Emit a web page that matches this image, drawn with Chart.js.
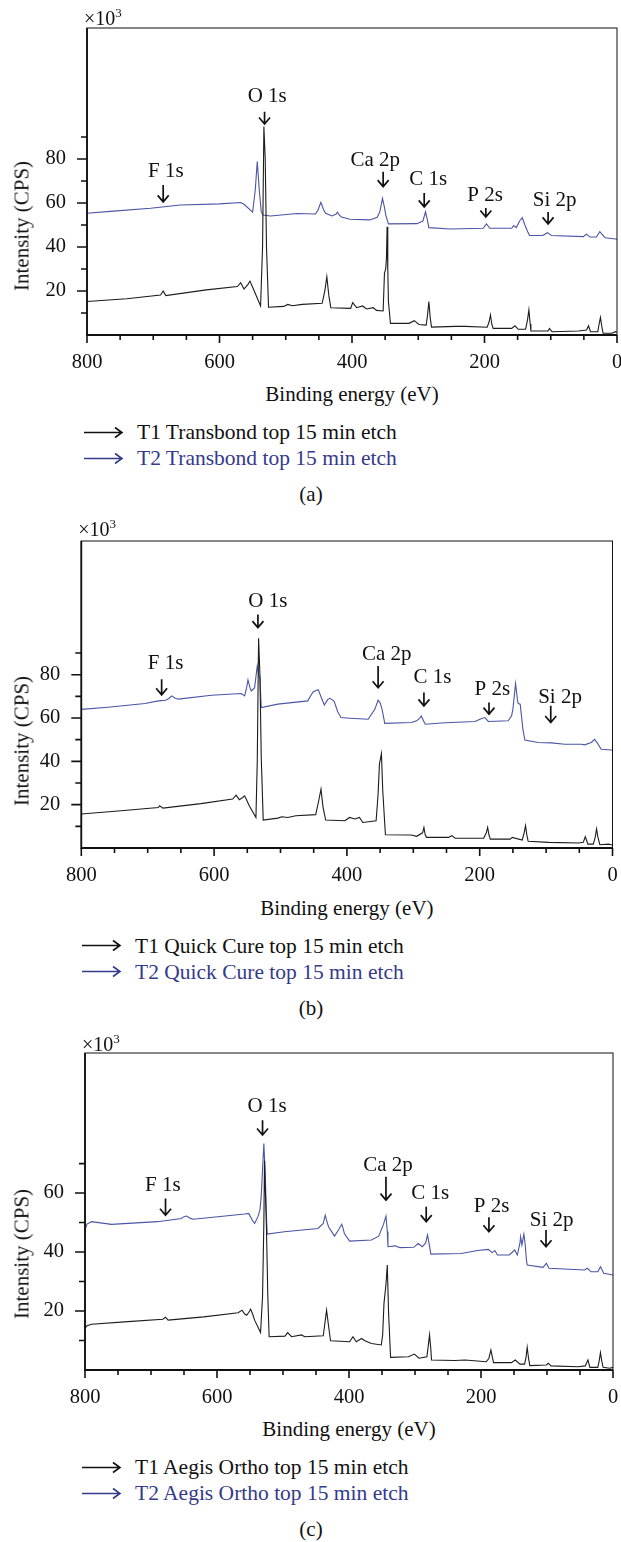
<!DOCTYPE html>
<html>
<head>
  <meta charset="utf-8">
  <title>XPS survey spectra</title>
  <script src="https://cdn.jsdelivr.net/npm/chart.js"></script>
  <style>
    body { margin: 0; background: #fff; }
    #page { position: relative; width: 621px; height: 1542px; font-family: 'Liberation Serif', serif; color: #111; overflow: hidden; }
    #page canvas { position: absolute; left: 0; }
    .txt { position: absolute; white-space: nowrap; font-size: 21px; line-height: 1; }
    .mid { transform: translate(-50%, -50%); }
    .ytitle { transform: translate(-50%, -50%) rotate(-90deg); }
    .left { transform: translateY(-50%); }
    .times { font-size: 20px; }
    .times sup { font-size: 13px; vertical-align: 8px; }
    .row { position: absolute; display: flex; align-items: center; transform: translateY(-50%); }
  </style>
</head>
<body>
<div id="page"></div>
<script>
  // values: [binding energy (eV), intensity (x10^3 CPS)]
  const xTicks = [800, 750, 700, 650, 600, 550, 500, 450, 400, 350, 300, 250, 200, 150, 100, 50, 0];
  const yTicksAB = [10, 20, 30, 40, 50, 60, 70, 80, 90];
  const yTicksC = [10, 20, 30, 40, 50, 60, 70];
  const peakNames = ['O 1s', 'F 1s', 'Ca 2p', 'C 1s', 'P 2s', 'Si 2p'];

  const transbondT1 = [[800,15.2],[740,16.5],[689,18.2],[685,20],[681,17.9],[620,20.5],[573,22],[568,23.8],[563,20.9],[557,23],[554,24.5],[549,21],[545,18.2],[538,13.2],[535,40],[533,94.7],[531,80],[529,39.4],[526,12.6],[503,13],[497,13.9],[490,13.3],[475,13.9],[445,14.4],[441,20],[438,26.5],[435,18],[432,12.4],[402,12.1],[399,14.7],[393,12.4],[384,13.2],[378,11.8],[368,12.4],[363,11.2],[353,10.9],[351,28],[349,30.3],[348,35],[347,49.2],[346,30],[345,15.2],[342,5.3],[314,5.3],[306,6.5],[299,4.8],[288,4.5],[286,9],[284,15.2],[282,8],[280,3.6],[244,3.9],[229,3.9],[196,3.5],[193,6],[191,9.1],[189,5],[187,3],[159,3],[154,4.2],[149,2.6],[138,2.6],[135,7],[133,11.4],[131,5],[130,1.8],[104,1.8],[102,3],[98,1.5],[58,1.8],[46,2.3],[43,4.2],[40,1.5],[29,1.5],[27,5],[25,8],[23,4],[21,0.8],[8,0.8],[2,1.5],[0,1.2]];
  const transbondT2 = [[800,55.3],[760,56.3],[704,57.6],[659,59.1],[600,59.6],[568,60.2],[563,59.4],[550,55.8],[546,66],[543,78.8],[540,66],[537,56],[534,54.5],[523,54.1],[483,55.2],[455,55],[451,57],[447,60.3],[443,57],[440,55.3],[430,54.1],[424,55],[422,55.8],[419,54.5],[416,53.6],[403,52.6],[373,52.3],[362,53.5],[358,56],[354,62.1],[351,58],[349,54.5],[345,50.5],[302,50.6],[293,51.8],[289,56],[286,52],[284,48.8],[252,48.2],[202,48.5],[197,50.5],[192,48.5],[159,48.5],[156,49.7],[152,48.8],[147,51.8],[143,53.3],[139,50],[135,47],[132,45.2],[112,45.2],[105,46.5],[99,45.2],[51,44.7],[46,45.8],[41,44.5],[31,44.5],[26,47],[18,44.2],[2,43.6],[0,43.5]];

  const quickCureT1 = [[800,15.7],[740,17.2],[684,18.7],[682,19.5],[677,18.4],[620,20.5],[572,22.6],[567,24.4],[562,22.3],[557,23.3],[554,24.1],[550,21.5],[547,19.5],[537,14.1],[535,40],[533,96.8],[531,80],[529,41.8],[526,12.9],[504,13.8],[498,14.4],[489,14.1],[477,14.9],[447,15.4],[443,21],[439,27.2],[436,19],[432,12.9],[403,12.6],[396,14.1],[388,13.4],[381,14.1],[376,11.8],[356,12.6],[353,25],[351,38.7],[349,42],[348,43.6],[346,26.4],[342,6.1],[303,6],[295,5.4],[286,7],[284,9.5],[282,6],[280,4.9],[247,4.9],[242,5.7],[237,4.5],[194,4.5],[190,7],[188,9.5],[186,6],[184,4.1],[154,4.1],[151,4.9],[136,3.7],[133,7],[131,10.3],[129,6],[127,3.1],[96,2.6],[51,2.3],[44,2.6],[41,5.2],[37,1.8],[29,1.8],[26,5],[24,8.8],[22,5],[19,1.5],[6,1.8],[2,1.5],[0,1.5]];
  const quickCureT2 = [[800,64],[760,65],[704,66.7],[684,67.9],[673,68.2],[668,69],[664,70.2],[659,69.2],[654,68.7],[604,70.5],[559,71.3],[554,70.2],[551,74],[549,77.6],[546,74],[544,72.5],[539,74],[537,79],[535,84],[533,80],[531,78.6],[529,64.8],[504,66.4],[459,67.9],[455,70],[451,72],[446,72.8],[443,73],[438,69],[434,66],[429,68.5],[426,69.1],[422,68.5],[419,67.6],[414,63],[409,60.2],[396,59.9],[368,59.4],[358,64],[353,68.2],[350,67],[347,64],[343,57.5],[303,57.9],[295,58.7],[290,60],[288,61],[285,59],[282,57.1],[252,57.8],[207,58.4],[197,59.8],[192,60.2],[187,58.4],[157,58.7],[152,61],[150,64],[148,70],[146,75.9],[143,68],[142,66.7],[139,66.4],[135,55],[132,49.8],[112,48.7],[92,48.5],[72,47.9],[47,47.9],[42,47.6],[32,48.7],[27,50.2],[23,48.5],[17,45.6],[2,45.2],[0,45.1]];

  const aegisT1 = [[800,14.1],[797,15],[790,15.5],[735,16.4],[682,17.2],[678,17.9],[674,16.9],[620,18],[568,19.4],[562,20.3],[558,19],[555,18.6],[552,19.5],[549,20.6],[546,19],[543,16.9],[534,12.7],[531,24.9],[529,50],[528,71],[526,55],[525,47.5],[523,25],[521,11.3],[497,11.5],[493,12.7],[487,11.3],[472,11.9],[467,11.3],[439,11.6],[437,15],[434,20.3],[431,15],[428,9.9],[399,9.6],[394,11.3],[389,9.6],[381,10.7],[376,9.9],[366,9],[351,8.5],[349,12],[347,22.6],[344,29],[342,35.6],[340,19.2],[337,4.3],[310,4.5],[301,5.4],[294,4],[282,4.5],[280,8],[278,11.9],[276,7],[275,3.4],[240,3.2],[224,3.4],[192,2.8],[188,4],[185,6.8],[182,3.5],[181,2.5],[154,2.5],[148,3.4],[141,2],[134,2],[132,4],[130,7.7],[128,4],[126,1.5],[101,1.7],[98,2.3],[94,1.4],[53,1.1],[42,1.4],[38,3.4],[35,0.9],[23,0.9],[21,3],[19,5.9],[17,3],[15,0.9],[5,0.6],[0,0.9]];
  const aegisT2 = [[800,47.5],[797,49.5],[790,50.3],[760,49.4],[690,50.3],[654,51.4],[650,52],[646,52.2],[641,51.5],[636,51.1],[558,52.9],[552,53.1],[547,51],[543,49.7],[538,52],[535,54.2],[533,58.8],[531,68],[529,76.8],[527,66.7],[525,52],[524,46.1],[498,46.9],[447,48],[439,49.7],[436,52.5],[433,50],[431,48.6],[422,45.4],[416,47.5],[411,49.4],[409,48],[407,46.3],[399,43.7],[366,44.1],[355,45.4],[348,49.2],[344,52.2],[342,47],[341,41.8],[330,42.1],[323,41.5],[302,41.6],[295,42.9],[289,41.8],[284,43],[281,45.8],[278,42],[276,39.3],[230,39.5],[205,40.5],[189,40.9],[183,39.8],[179,40.5],[175,39],[157,39],[149,40.7],[145,39],[141,43],[140,45.2],[138,42.4],[135,46.1],[133,42.4],[131,37],[130,35.6],[106,34.8],[101,36.2],[97,34.5],[43,33.9],[39,34.5],[33,33.3],[23,33.3],[19,35],[14,32.8],[0,32.2]];

  // peak labels: [text eV, text y, arrow eV, arrow top y, arrow tip y], same order as peakNames
  const peaksA = [[528,108.2,532,101.4,95.9],[681,74.5,685,68.2,60.5],[365,79.5,353,74.2,67.4],[285,70.5,291,64.5,58.2],[199,63.6,198,57.7,53.6],[94,60.9,104,55.9,50.5]];
  const peaksB = [[519,114,534,107.8,101.7],[673,85,679,77.9,70.7],[340,89.4,353,84,74],[271,78.7,284,71.8,65.6],[181,73.3,186,67.1,61.8],[79,69.4,93,65.6,57.9]];
  const peaksC = [[524,89.5,531,84.7,79.7],[682,62.7,678,58.2,52.5],[341,69.5,344,65.5,57.6],[277,59.9,283,55.4,50.3],[184,55.6,188,51.8,46.9],[93,50.8,101.5,47.5,41.8]];

  const legendA = ['T1 Transbond top 15 min etch', 'T2 Transbond top 15 min etch'];
  const legendB = ['T1 Quick Cure top 15 min etch', 'T2 Quick Cure top 15 min etch'];
  const legendC = ['T1 Aegis Ortho top 15 min etch', 'T2 Aegis Ortho top 15 min etch'];

  const BLACK = '#1c1c1c';
  const BLUE = '#4a55a6';
  const NAVY = '#343a8c';
  const FONT = "'Liberation Serif', serif";

  const page = document.getElementById('page');

  function addText(html, x, y, cls, color) {
    const d = document.createElement('div');
    d.className = 'txt ' + cls;
    d.innerHTML = html;
    d.style.left = x + 'px';
    d.style.top = y + 'px';
    if (color) d.style.color = color;
    page.appendChild(d);
    return d;
  }

  function addLegendRow(label, x, y, color) {
    const row = document.createElement('div');
    row.className = 'row';
    row.style.left = x + 'px';
    row.style.top = y + 'px';
    row.innerHTML = '<svg width="40" height="14" style="margin-right:13px"><path d="M0 7 H38 M31 2 L38 7 L31 12" fill="none" stroke="' + color + '" stroke-width="1.6"/></svg>' +
      '<span style="font-size:21.5px;color:' + color + '">' + label + '</span>';
    page.appendChild(row);
  }

  const decor = {
    id: 'decor',
    afterDatasetsDraw(chart, args, opts) {
      const ctx = chart.ctx, a = chart.chartArea;
      const xs = chart.scales.x, ys = chart.scales.y;
      ctx.save();
      ctx.strokeStyle = '#111';
      ctx.lineWidth = 1;
      ctx.strokeRect(a.left, a.top, a.right - a.left, a.bottom - a.top);
      ctx.lineWidth = 1.8;
      ctx.beginPath();
      ctx.moveTo(a.left, a.top); ctx.lineTo(a.left, a.bottom); ctx.lineTo(a.right, a.bottom);
      ctx.stroke();
      ctx.lineWidth = 1.6;
      ctx.beginPath();
      xs.ticks.forEach(t => {
        const px = xs.getPixelForValue(t.value);
        const len = t.value % 200 === 0 ? 8 : 5;
        ctx.moveTo(px, a.bottom); ctx.lineTo(px, a.bottom + len);
      });
      ys.ticks.forEach(t => {
        const py = ys.getPixelForValue(t.value);
        const len = t.value % 20 === 0 ? 10 : 6;
        ctx.moveTo(a.left, py); ctx.lineTo(a.left - len, py);
      });
      ctx.stroke();

      // peak labels and arrows
      ctx.fillStyle = '#111';
      ctx.font = '21px ' + FONT;
      ctx.textAlign = 'center';
      ctx.textBaseline = 'middle';
      ctx.lineWidth = 1.7;
      opts.peaks.forEach((p, i) => {
        ctx.fillText(peakNames[i], xs.getPixelForValue(p[0]), ys.getPixelForValue(p[1]));
        const ax = xs.getPixelForValue(p[2]);
        const y0 = ys.getPixelForValue(p[3]), y1 = ys.getPixelForValue(p[4]);
        ctx.beginPath();
        ctx.moveTo(ax, y0); ctx.lineTo(ax, y1);
        ctx.moveTo(ax - 5.5, y1 - 6.5); ctx.lineTo(ax, y1); ctx.lineTo(ax + 5.5, y1 - 6.5);
        ctx.stroke();
      });
      ctx.restore();
    }
  };

  function makePanel(p) {
    const top = p.box.top - 6;
    const h = p.box.bottom + 46 - top;
    const canvas = document.createElement('canvas');
    canvas.width = 621;
    canvas.height = h;
    canvas.style.top = top + 'px';
    page.appendChild(canvas);

    new Chart(canvas, {
      type: 'line',
      data: {
        datasets: [
          { label: p.legend[0], data: p.t1.map(d => ({ x: d[0], y: d[1] })), borderColor: BLACK, borderWidth: 1.1, pointRadius: 0, tension: 0 },
          { label: p.legend[1], data: p.t2.map(d => ({ x: d[0], y: d[1] })), borderColor: BLUE, borderWidth: 1.1, pointRadius: 0, tension: 0 }
        ]
      },
      options: {
        responsive: false,
        animation: false,
        layout: { padding: { top: 6, right: 621 - p.box.right, left: 0, bottom: 0 } },
        plugins: { legend: { display: false }, tooltip: { enabled: false }, decor: { peaks: p.peaks } },
        scales: {
          x: {
            type: 'linear', reverse: true, min: 0, max: 800,
            grid: { display: false, drawTicks: false, tickLength: 0 },
            border: { display: false },
            afterBuildTicks: s => { s.ticks = xTicks.map(v => ({ value: v })); },
            afterFit: s => { s.height = 46; s.paddingLeft = 0; s.paddingRight = 0; },
            ticks: {
              autoSkip: false, maxRotation: 0, padding: 15, color: '#111',
              font: { family: FONT, size: 20.5 },
              callback: v => v % 200 === 0 ? String(v) : ''
            }
          },
          y: {
            min: 0, max: p.yMax,
            grid: { display: false, drawTicks: false, tickLength: 0 },
            border: { display: false },
            afterBuildTicks: s => { s.ticks = p.yTicks.map(v => ({ value: v })); },
            afterFit: s => { s.width = p.box.left; s.paddingTop = 0; s.paddingBottom = 0; },
            ticks: {
              autoSkip: false, padding: 21, color: '#111',
              font: { family: FONT, size: 20.5 },
              callback: v => v % 20 === 0 ? String(v) : ''
            }
          }
        }
      },
      plugins: [decor]
    });

    addText('&times;10<sup>3</sup>', p.box.left - 3, p.timesY, 'left times');
    addText('Intensity (CPS)', 22, p.yTitleY, 'ytitle');
    addText('Binding energy (eV)', (p.box.left + p.box.right) / 2, p.box.bottom + 59, 'mid');
    addLegendRow(p.legend[0], p.legendX, p.box.bottom + 97, '#111');
    addLegendRow(p.legend[1], p.legendX, p.box.bottom + 123, NAVY);
    addText(p.tag, 311, p.box.bottom + 159, 'mid');
  }

  makePanel({ box: { left: 87, right: 617, top: 28, bottom: 335 }, yMax: 139.5, yTicks: yTicksAB,
    t1: transbondT1, t2: transbondT2, peaks: peaksA, legend: legendA, tag: '(a)',
    timesY: 17, yTitleY: 226, legendX: 84 });
  makePanel({ box: { left: 81.3, right: 612.5, top: 541, bottom: 848.5 }, yMax: 141.7, yTicks: yTicksAB,
    t1: quickCureT1, t2: quickCureT2, peaks: peaksB, legend: legendB, tag: '(b)',
    timesY: 528, yTitleY: 741, legendX: 82 });
  makePanel({ box: { left: 85, right: 613, top: 1053, bottom: 1370 }, yMax: 107.5, yTicks: yTicksC,
    t1: aegisT1, t2: aegisT2, peaks: peaksC, legend: legendC, tag: '(c)',
    timesY: 1043, yTitleY: 1254, legendX: 82 });
</script>
</body>
</html>
